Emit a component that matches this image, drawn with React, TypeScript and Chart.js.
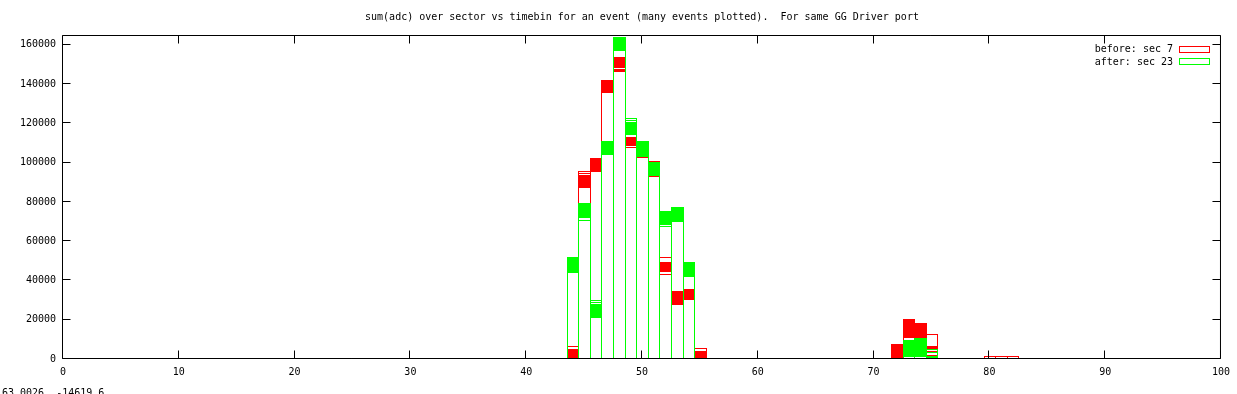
import React, { useEffect, useRef } from 'react';
import { Chart, registerables } from 'chart.js';

Chart.register(...registerables);

// timebins that carry data
const bins = [44, 45, 46, 47, 48, 49, 50, 51, 52, 53, 54, 55, 72, 73, 74, 75, 79, 80, 81, 82, 83];

// "before: sec 7" (red) – dense clusters of events (low/high of the cluster) and single events
const beforeBandLow = [0, 87650, 96170, 136640, 148570, 108930, null, null, 44640, 27960, 30360, 0, 770, 11120, 11120, 5200, null, null, null, null, null];
const beforeBandHigh = [5200, 93470, 102240, 142100, 153980, 112860, null, null, 49240, 34440, 35460, 4180, 7400, 20150, 18110, 6380, null, null, null, null, null];
const beforeEventA = [6380, 95660, 95820, 135800, 147860, 114390, 102800, 100770, 51790, null, null, 5360, null, null, null, 12500, 600, 1280, 1280, 1280, 600];
const beforeEventB = [null, 94490, null, null, 147200, 107910, null, 93100, 43370, null, null, null, null, null, null, 3980, null, null, null, null, null];
const beforeEventC = [null, 87340, null, null, 146530, null, null, null, null, null, null, null, null, null, null, 2140, null, null, null, null, null];

// "after: sec 23" (green)
const afterBandLow = [44290, 72350, 21840, 105000, 157910, 114540, 103320, 93620, 68620, 70310, 42250, null, null, 1280, 2040, 400, null, null, null, null, null];
const afterBandHigh = [51790, 79340, 27800, 110970, 164030, 120820, 110970, 100260, 74740, 77300, 49240, null, null, 9440, 10460, 1430, null, null, null, null, null];
const afterEventA = [null, 71000, 29850, 104340, 157400, 122700, null, null, 75610, null, null, null, 600, 400, 1280, 4850, null, null, null, null, null];
const afterEventB = [null, null, 28830, null, null, 121680, null, null, 67750, null, null, null, null, null, null, 3320, null, null, null, null, null];
const afterEventC = [null, null, 21170, null, null, null, null, null, null, null, null, null, null, null, null, null, null, null, null, null, null];

const xTickValues = [0, 10, 20, 30, 40, 50, 60, 70, 80, 90, 100];
const yTickValues = [0, 20000, 40000, 60000, 80000, 100000, 120000, 140000, 160000];

const titleText = 'sum(adc) over sector vs timebin for an event (many events plotted).  For same GG Driver port';
const legendBefore = 'before: sec 7';
const legendAfter = 'after: sec 23';
const statusText = '63.0026, -14619.6';

const RED = '#ff0000';
const GREEN = '#00ff00';
const FONT = '10px "DejaVu Sans Mono"';

export default function App() {
  const ref = useRef<HTMLCanvasElement>(null);

  useEffect(() => {
    const canvas = ref.current;
    if (!canvas) return;

    const toPoints = (vals: (number | null)[]) =>
      bins.map((b, i) => (vals[i] == null ? null : { x: b, y: vals[i] as number })).filter(Boolean);
    const toBand = (lo: (number | null)[], hi: (number | null)[]) =>
      bins
        .map((b, i) => (lo[i] == null || hi[i] == null ? null : { x: b, y: [lo[i] as number, hi[i] as number] }))
        .filter(Boolean);

    const outline = (label: string, vals: (number | null)[], color: string, order: number) => ({
      label,
      kind: 'outline',
      data: toPoints(vals),
      backgroundColor: 'rgba(0,0,0,0)',
      borderColor: color,
      borderWidth: 1,
      borderSkipped: false,
      barPercentage: 1,
      inflateAmount: 0,
      order,
    });
    const band = (label: string, lo: (number | null)[], hi: (number | null)[], color: string, order: number) => ({
      label,
      kind: 'band',
      data: toBand(lo, hi),
      backgroundColor: color,
      borderWidth: 0,
      barPercentage: 1,
      inflateAmount: 0,
      order,
    });

    // snap box edges to whole pixels, like gnuplot's bitmap terminal
    const snap = {
      id: 'pixelSnap',
      afterDatasetsUpdate(chart: any) {
        chart.data.datasets.forEach((ds: any, i: number) => {
          const meta = chart.getDatasetMeta(i);
          meta.data.forEach((el: any) => {
            const l = Math.round(el.x - el.width / 2);
            const r = Math.round(el.x + el.width / 2) + 1;
            el.x = (l + r) / 2;
            el.width = r - l;
            el.y = Math.round(el.y);
            el.base = Math.round(el.base);
          });
        });
      },
    };

    const decor = {
      id: 'gnuplotDecor',
      afterDraw(chart: any) {
        const { ctx, chartArea: a, scales } = chart;
        const xs = scales.x;
        const ys = scales.y;
        ctx.save();
        ctx.strokeStyle = '#000';
        ctx.lineWidth = 1;
        // frame
        const L = a.left - 0.5, R = a.right - 0.5, T = a.top + 0.5, B = a.bottom - 0.5;
        ctx.beginPath();
        ctx.rect(L, T, R - L, B - T);
        ctx.stroke();
        // inward ticks (mirrored)
        const tl = 8;
        ctx.beginPath();
        xTickValues.forEach((v) => {
          const px = Math.round(xs.getPixelForValue(v)) - 0.5;
          ctx.moveTo(px, B);
          ctx.lineTo(px, B - tl);
          ctx.moveTo(px, T);
          ctx.lineTo(px, T + tl);
        });
        yTickValues.forEach((v) => {
          const py = Math.round(ys.getPixelForValue(v)) - 0.5;
          ctx.moveTo(L, py);
          ctx.lineTo(L + tl, py);
          ctx.moveTo(R, py);
          ctx.lineTo(R - tl, py);
        });
        ctx.stroke();

        ctx.fillStyle = '#000';
        ctx.font = FONT;
        // title
        ctx.textAlign = 'center';
        ctx.textBaseline = 'middle';
        ctx.fillText(titleText, (a.left + a.right) / 2, 17);
        // legend
        ctx.textAlign = 'right';
        ctx.fillText(legendBefore, 1173, 49.5);
        ctx.fillText(legendAfter, 1173, 62);
        ctx.strokeStyle = RED;
        ctx.strokeRect(1179.5, 46.5, 30, 6);
        ctx.strokeStyle = GREEN;
        ctx.strokeRect(1179.5, 58.5, 30, 6);
        // status line (mouse coordinates)
        ctx.textAlign = 'left';
        ctx.textBaseline = 'alphabetic';
        ctx.fillText(statusText, 2, 396);
        ctx.restore();
      },
    };

    const chart = new Chart(canvas, {
      type: 'bar',
      data: {
        datasets: [
          outline('after: sec 23', afterBandHigh, GREEN, 0),
          outline('after low', afterBandLow, GREEN, 0),
          outline('after A', afterEventA, GREEN, 0),
          outline('after B', afterEventB, GREEN, 0),
          outline('after C', afterEventC, GREEN, 0),
          band('after band', afterBandLow, afterBandHigh, GREEN, 0),
          outline('before: sec 7', beforeBandHigh, RED, 1),
          outline('before low', beforeBandLow, RED, 1),
          outline('before A', beforeEventA, RED, 1),
          outline('before B', beforeEventB, RED, 1),
          outline('before C', beforeEventC, RED, 1),
          band('before band', beforeBandLow, beforeBandHigh, RED, 1),
        ] as any,
      },
      options: {
        responsive: false,
        animation: false,
        devicePixelRatio: 1,
        events: [],
        layout: { padding: { left: 0, right: 16, top: 35, bottom: 0 } },
        plugins: {
          legend: { display: false },
          tooltip: { enabled: false },
          title: { display: false },
        },
        datasets: { bar: { grouped: false, categoryPercentage: 1 } } as any,
        scales: {
          x: {
            type: 'linear',
            min: 0,
            max: 100,
            offset: false,
            grid: { display: false, drawTicks: false },
            border: { display: false },
            ticks: {
              font: { family: 'DejaVu Sans Mono', size: 10 },
              color: '#000',
              padding: 7,
              autoSkip: false,
              maxRotation: 0,
              callback: (v: any) => String(v),
            },
            afterBuildTicks: (s: any) => {
              s.ticks = xTickValues.map((v) => ({ value: v }));
            },
            afterFit: (s: any) => {
              s.height = 35;
            },
          },
          y: {
            type: 'linear',
            min: 0,
            max: 165000,
            grid: { display: false, drawTicks: false },
            border: { display: false },
            ticks: {
              font: { family: 'DejaVu Sans Mono', size: 10 },
              color: '#000',
              padding: 7,
              autoSkip: false,
              callback: (v: any) => String(v),
            },
            afterBuildTicks: (s: any) => {
              s.ticks = yTickValues.map((v) => ({ value: v }));
            },
            afterFit: (s: any) => {
              s.width = 63;
            },
          },
        } as any,
      },
      plugins: [snap, decor],
    });

    return () => chart.destroy();
  }, []);

  return (
    <div style={{ position: 'fixed', left: 0, top: 0, width: 1237, height: 394, background: '#fff' }}>
      <canvas ref={ref} width={1237} height={394} style={{ display: 'block', width: 1237, height: 394 }} />
    </div>
  );
}
